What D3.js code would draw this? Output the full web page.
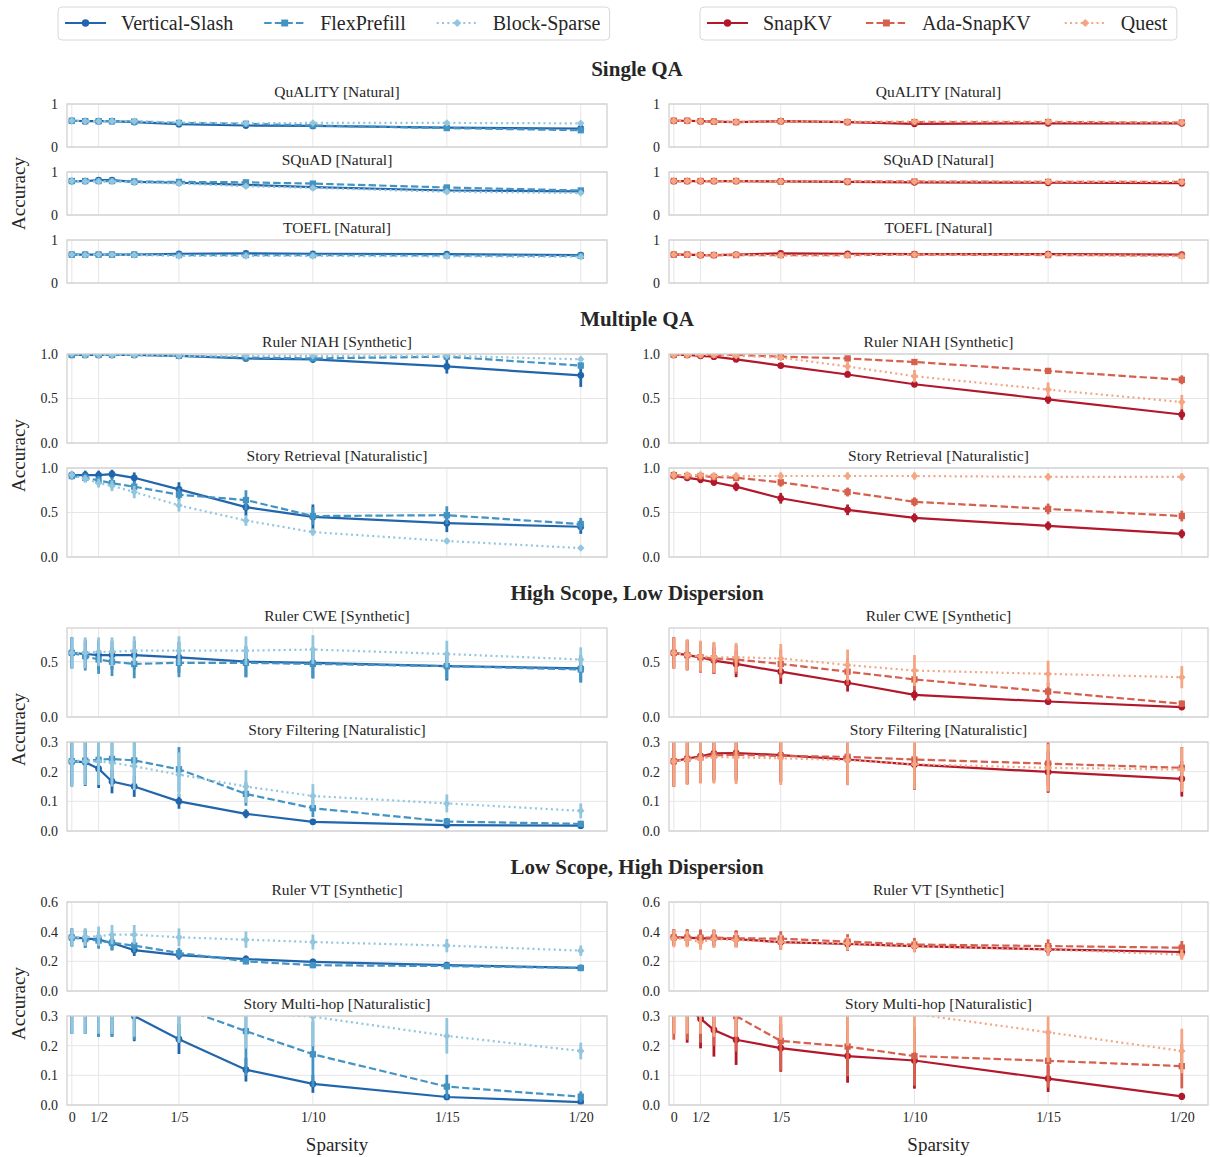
<!DOCTYPE html>
<html>
<head>
<meta charset="utf-8">
<script src="https://cdn.jsdelivr.net/npm/d3@7"></script>
<style>
  body { margin: 0; background: #fff; }
  svg text { font-family: "Liberation Serif", "Times New Roman", serif; fill: #262626; }
</style>
</head>
<body>
<div id="chart"></div>
<script>
// x positions are compression ratios, labelled as sparsity
const compression = [1, 1.5, 2, 2.5, 3.33, 5, 7.5, 10, 15, 20];
const sparsityTicks = [1, 2, 5, 10, 15, 20];
const sparsityLabels = ["0", "1/2", "1/5", "1/10", "1/15", "1/20"];

const prefillMethods = ["Vertical-Slash", "FlexPrefill", "Block-Sparse"];
const decodeMethods = ["SnapKV", "Ada-SnapKV", "Quest"];
const prefillColors = ["#2166ac", "#4393c3", "#92c5de"];
const decodeColors = ["#b2182b", "#d6604d", "#f4a582"];

// ---- Single QA ----
const qualityPrefill = [
    [0.61, 0.60, 0.60, 0.60, 0.58, 0.53, 0.50, 0.49, 0.45, 0.43],
    [0.61, 0.60, 0.60, 0.60, 0.59, 0.56, 0.54, 0.50, 0.44, 0.39],
    [0.61, 0.60, 0.60, 0.60, 0.60, 0.57, 0.55, 0.56, 0.56, 0.55]
];
const qualityPrefillErr = [
    [0.02, 0.02, 0.02, 0.02, 0.02, 0.02, 0.02, 0.02, 0.02, 0.02],
    [0.02, 0.02, 0.02, 0.02, 0.02, 0.02, 0.02, 0.02, 0.02, 0.02],
    [0.02, 0.02, 0.02, 0.02, 0.02, 0.02, 0.02, 0.02, 0.02, 0.02]
];
const qualityDecode = [
    [0.61, 0.61, 0.60, 0.59, 0.58, 0.60, 0.58, 0.54, 0.55, 0.55],
    [0.61, 0.61, 0.60, 0.59, 0.58, 0.60, 0.58, 0.58, 0.58, 0.57],
    [0.61, 0.61, 0.60, 0.59, 0.58, 0.60, 0.59, 0.59, 0.59, 0.57]
];
const qualityDecodeErr = qualityPrefillErr;

const squadPrefill = [
    [0.79, 0.79, 0.81, 0.81, 0.77, 0.75, 0.70, 0.65, 0.57, 0.55],
    [0.79, 0.79, 0.79, 0.79, 0.78, 0.77, 0.76, 0.73, 0.64, 0.57],
    [0.79, 0.78, 0.78, 0.78, 0.76, 0.73, 0.67, 0.63, 0.54, 0.51]
];
const squadDecode = [
    [0.79, 0.79, 0.79, 0.79, 0.79, 0.78, 0.77, 0.76, 0.75, 0.74],
    [0.79, 0.79, 0.79, 0.79, 0.79, 0.78, 0.78, 0.78, 0.77, 0.77],
    [0.79, 0.79, 0.79, 0.79, 0.79, 0.78, 0.78, 0.78, 0.78, 0.77]
];

const toeflPrefill = [
    [0.66, 0.66, 0.66, 0.66, 0.66, 0.68, 0.69, 0.68, 0.67, 0.65],
    [0.66, 0.66, 0.66, 0.66, 0.66, 0.65, 0.65, 0.65, 0.64, 0.63],
    [0.66, 0.65, 0.66, 0.66, 0.65, 0.63, 0.63, 0.63, 0.62, 0.61]
];
const toeflDecode = [
    [0.66, 0.66, 0.65, 0.65, 0.66, 0.69, 0.68, 0.67, 0.67, 0.66],
    [0.66, 0.66, 0.65, 0.65, 0.65, 0.65, 0.65, 0.66, 0.65, 0.64],
    [0.66, 0.66, 0.65, 0.65, 0.66, 0.64, 0.64, 0.66, 0.66, 0.62]
];

// ---- Multiple QA ----
const niahPrefill = [
    [0.99, 0.99, 0.99, 0.99, 0.99, 0.98, 0.95, 0.94, 0.86, 0.76],
    [0.99, 0.99, 0.99, 0.99, 0.99, 0.98, 0.96, 0.95, 0.97, 0.87],
    [1.00, 0.99, 0.99, 0.99, 0.99, 0.98, 0.98, 0.98, 0.98, 0.94]
];
const niahPrefillErr = [
    [0.01, 0.01, 0.01, 0.01, 0.01, 0.02, 0.03, 0.04, 0.08, 0.13],
    [0.01, 0.01, 0.01, 0.01, 0.01, 0.02, 0.02, 0.03, 0.02, 0.04],
    [0.01, 0.01, 0.01, 0.01, 0.01, 0.01, 0.01, 0.01, 0.01, 0.02]
];
const niahDecode = [
    [0.99, 0.99, 0.98, 0.97, 0.94, 0.87, 0.77, 0.66, 0.49, 0.32],
    [0.99, 0.99, 0.99, 0.99, 0.99, 0.97, 0.95, 0.91, 0.81, 0.71],
    [0.99, 0.99, 0.99, 0.99, 0.98, 0.96, 0.86, 0.75, 0.60, 0.46]
];
const niahDecodeErr = [
    [0.01, 0.01, 0.01, 0.01, 0.02, 0.02, 0.03, 0.03, 0.05, 0.06],
    [0.01, 0.01, 0.01, 0.01, 0.01, 0.02, 0.02, 0.02, 0.03, 0.05],
    [0.01, 0.01, 0.01, 0.01, 0.02, 0.03, 0.05, 0.07, 0.08, 0.08]
];

const retrievalPrefill = [
    [0.92, 0.92, 0.92, 0.93, 0.89, 0.76, 0.56, 0.45, 0.38, 0.34],
    [0.91, 0.89, 0.86, 0.83, 0.79, 0.70, 0.64, 0.46, 0.47, 0.37],
    [0.92, 0.88, 0.83, 0.80, 0.73, 0.58, 0.41, 0.28, 0.18, 0.10]
];
const retrievalPrefillErr = [
    [0.04, 0.05, 0.05, 0.05, 0.06, 0.08, 0.10, 0.14, 0.10, 0.08],
    [0.04, 0.05, 0.05, 0.06, 0.06, 0.07, 0.11, 0.10, 0.10, 0.07],
    [0.04, 0.04, 0.05, 0.06, 0.07, 0.07, 0.06, 0.04, 0.03, 0.02]
];
const retrievalDecode = [
    [0.91, 0.89, 0.87, 0.84, 0.79, 0.66, 0.53, 0.44, 0.35, 0.26],
    [0.92, 0.91, 0.91, 0.90, 0.89, 0.84, 0.73, 0.62, 0.54, 0.46],
    [0.92, 0.92, 0.92, 0.91, 0.91, 0.91, 0.91, 0.91, 0.90, 0.90]
];
const retrievalDecodeErr = [
    [0.03, 0.03, 0.04, 0.04, 0.05, 0.06, 0.06, 0.05, 0.05, 0.05],
    [0.04, 0.04, 0.04, 0.04, 0.04, 0.05, 0.05, 0.05, 0.06, 0.06],
    [0.04, 0.04, 0.04, 0.04, 0.04, 0.04, 0.04, 0.04, 0.04, 0.04]
];

// ---- High Scope, Low Dispersion ----
const cwePrefill = [
    [0.58, 0.57, 0.56, 0.56, 0.56, 0.54, 0.50, 0.49, 0.46, 0.44],
    [0.58, 0.55, 0.52, 0.50, 0.48, 0.49, 0.49, 0.48, 0.46, 0.43],
    [0.58, 0.58, 0.59, 0.59, 0.60, 0.60, 0.60, 0.61, 0.57, 0.52]
];
const cwePrefillErr = [
    [0.14, 0.13, 0.13, 0.13, 0.13, 0.14, 0.14, 0.14, 0.13, 0.12],
    [0.14, 0.13, 0.13, 0.13, 0.13, 0.13, 0.13, 0.13, 0.12, 0.12],
    [0.14, 0.14, 0.13, 0.13, 0.13, 0.13, 0.13, 0.13, 0.12, 0.11]
];
const cweDecode = [
    [0.58, 0.56, 0.54, 0.51, 0.48, 0.41, 0.31, 0.20, 0.14, 0.09],
    [0.58, 0.56, 0.54, 0.53, 0.52, 0.48, 0.41, 0.34, 0.23, 0.12],
    [0.58, 0.56, 0.55, 0.54, 0.54, 0.53, 0.47, 0.42, 0.39, 0.36]
];
const cweDecodeErr = [
    [0.14, 0.13, 0.13, 0.12, 0.12, 0.11, 0.08, 0.05, 0.03, 0.02],
    [0.14, 0.14, 0.14, 0.14, 0.13, 0.13, 0.12, 0.10, 0.08, 0.03],
    [0.14, 0.14, 0.14, 0.14, 0.13, 0.13, 0.14, 0.14, 0.12, 0.10]
];

const filteringPrefill = [
    [0.235, 0.232, 0.210, 0.167, 0.150, 0.100, 0.058, 0.031, 0.020, 0.018],
    [0.235, 0.237, 0.240, 0.243, 0.238, 0.208, 0.125, 0.077, 0.032, 0.024],
    [0.235, 0.235, 0.235, 0.230, 0.218, 0.190, 0.150, 0.118, 0.093, 0.068]
];
const filteringPrefillErr = [
    [0.085, 0.080, 0.065, 0.040, 0.035, 0.025, 0.015, 0.008, 0.006, 0.005],
    [0.080, 0.080, 0.080, 0.080, 0.080, 0.075, 0.040, 0.030, 0.012, 0.010],
    [0.085, 0.080, 0.080, 0.080, 0.080, 0.075, 0.055, 0.040, 0.030, 0.025]
];
const filteringDecode = [
    [0.235, 0.244, 0.252, 0.262, 0.263, 0.256, 0.241, 0.224, 0.199, 0.176],
    [0.235, 0.243, 0.248, 0.255, 0.257, 0.253, 0.250, 0.241, 0.227, 0.213],
    [0.235, 0.240, 0.245, 0.250, 0.248, 0.245, 0.239, 0.225, 0.213, 0.207]
];
const filteringDecodeErr = [
    [0.085, 0.085, 0.090, 0.090, 0.090, 0.090, 0.085, 0.085, 0.070, 0.060],
    [0.085, 0.085, 0.085, 0.090, 0.090, 0.090, 0.085, 0.080, 0.075, 0.070],
    [0.085, 0.085, 0.085, 0.090, 0.090, 0.090, 0.085, 0.085, 0.080, 0.075]
];

// ---- Low Scope, High Dispersion ----
const vtPrefill = [
    [0.362, 0.355, 0.346, 0.324, 0.276, 0.242, 0.215, 0.197, 0.174, 0.156],
    [0.360, 0.350, 0.340, 0.325, 0.306, 0.256, 0.200, 0.174, 0.168, 0.155],
    [0.362, 0.364, 0.369, 0.380, 0.380, 0.362, 0.346, 0.330, 0.306, 0.272]
];
const vtPrefillErr = [
    [0.060, 0.060, 0.050, 0.050, 0.040, 0.030, 0.025, 0.020, 0.015, 0.015],
    [0.060, 0.060, 0.055, 0.050, 0.045, 0.035, 0.020, 0.015, 0.012, 0.012],
    [0.060, 0.060, 0.065, 0.065, 0.065, 0.060, 0.055, 0.050, 0.045, 0.035]
];
const vtDecode = [
    [0.362, 0.360, 0.355, 0.355, 0.350, 0.330, 0.317, 0.303, 0.280, 0.263],
    [0.362, 0.360, 0.360, 0.360, 0.355, 0.353, 0.333, 0.313, 0.303, 0.292],
    [0.355, 0.350, 0.328, 0.350, 0.344, 0.330, 0.320, 0.300, 0.280, 0.245]
];
const vtDecodeErr = [
    [0.055, 0.055, 0.055, 0.055, 0.055, 0.050, 0.045, 0.040, 0.040, 0.040],
    [0.055, 0.055, 0.055, 0.055, 0.055, 0.050, 0.050, 0.045, 0.045, 0.045],
    [0.060, 0.055, 0.050, 0.060, 0.050, 0.050, 0.045, 0.040, 0.040, 0.035]
];

const multihopPrefill = [
    [0.34, 0.34, 0.33, 0.33, 0.30, 0.222, 0.119, 0.071, 0.027, 0.010],
    [0.36, 0.36, 0.35, 0.35, 0.34, 0.33, 0.249, 0.171, 0.062, 0.028],
    [0.37, 0.37, 0.37, 0.37, 0.36, 0.33, 0.31, 0.298, 0.233, 0.182]
];
const multihopPrefillErr = [
    [0.10, 0.10, 0.10, 0.10, 0.085, 0.05, 0.04, 0.03, 0.010, 0.006],
    [0.12, 0.12, 0.12, 0.12, 0.12, 0.12, 0.15, 0.11, 0.040, 0.018],
    [0.13, 0.13, 0.13, 0.13, 0.13, 0.12, 0.12, 0.10, 0.060, 0.028]
];
const multihopDecode = [
    [0.34, 0.33, 0.291, 0.253, 0.22, 0.192, 0.165, 0.150, 0.089, 0.029],
    [0.34, 0.34, 0.33, 0.32, 0.30, 0.216, 0.197, 0.165, 0.149, 0.131],
    [0.37, 0.37, 0.37, 0.36, 0.36, 0.35, 0.33, 0.307, 0.245, 0.182]
];
const multihopDecodeErr = [
    [0.10, 0.12, 0.10, 0.09, 0.085, 0.08, 0.09, 0.095, 0.045, 0.012],
    [0.12, 0.12, 0.12, 0.12, 0.12, 0.10, 0.10, 0.10, 0.090, 0.075],
    [0.13, 0.13, 0.13, 0.13, 0.13, 0.13, 0.13, 0.13, 0.100, 0.075]
];

const fmtInt = d3.format("d");
const fmt1 = d3.format(".1f");

const groups = [
    { title: "Single QA", height: 43, tasks: [
        { title: "QuALITY [Natural]", yMax: 1, yTicks: [0, 1], fmt: fmtInt,
          prefill: [qualityPrefill, qualityPrefillErr], decode: [qualityDecode, qualityDecodeErr] },
        { title: "SQuAD [Natural]", yMax: 1, yTicks: [0, 1], fmt: fmtInt,
          prefill: [squadPrefill, qualityPrefillErr], decode: [squadDecode, qualityDecodeErr] },
        { title: "TOEFL [Natural]", yMax: 1, yTicks: [0, 1], fmt: fmtInt,
          prefill: [toeflPrefill, qualityPrefillErr], decode: [toeflDecode, qualityDecodeErr] }
    ]},
    { title: "Multiple QA", height: 89, tasks: [
        { title: "Ruler NIAH [Synthetic]", yMax: 1, yTicks: [0, 0.5, 1], fmt: fmt1,
          prefill: [niahPrefill, niahPrefillErr], decode: [niahDecode, niahDecodeErr] },
        { title: "Story Retrieval [Naturalistic]", yMax: 1, yTicks: [0, 0.5, 1], fmt: fmt1,
          prefill: [retrievalPrefill, retrievalPrefillErr], decode: [retrievalDecode, retrievalDecodeErr] }
    ]},
    { title: "High Scope, Low Dispersion", height: 89, tasks: [
        { title: "Ruler CWE [Synthetic]", yMax: 0.805, yTicks: [0, 0.5], fmt: fmt1,
          prefill: [cwePrefill, cwePrefillErr], decode: [cweDecode, cweDecodeErr] },
        { title: "Story Filtering [Naturalistic]", yMax: 0.3, yTicks: [0, 0.1, 0.2, 0.3], fmt: fmt1,
          prefill: [filteringPrefill, filteringPrefillErr], decode: [filteringDecode, filteringDecodeErr] }
    ]},
    { title: "Low Scope, High Dispersion", height: 89, tasks: [
        { title: "Ruler VT [Synthetic]", yMax: 0.6, yTicks: [0, 0.2, 0.4, 0.6], fmt: fmt1,
          prefill: [vtPrefill, vtPrefillErr], decode: [vtDecode, vtDecodeErr] },
        { title: "Story Multi-hop [Naturalistic]", yMax: 0.3, yTicks: [0, 0.1, 0.2, 0.3], fmt: fmt1,
          prefill: [multihopPrefill, multihopPrefillErr], decode: [multihopDecode, multihopDecodeErr] }
    ]}
];

const W = 1210, H = 1157;
const svg = d3.select("#chart").append("svg")
    .attr("width", W)
    .attr("height", H);

const columns = [
    { x0: 67, x1: 607, key: "prefill", methods: prefillMethods, colors: prefillColors },
    { x0: 669, x1: 1208, key: "decode", methods: decodeMethods, colors: decodeColors }
];
const dashes = [null, "7.4,3.2", "2,3.3"];
const symbols = [d3.symbolCircle, d3.symbolSquare, d3.symbolSquare];
const symbolSizes = [36, 40, 28];
const symbolRotate = [0, 0, 45];

const spineColor = "#cfcfcf";
const gridColor = "#e6e6e6";

// Legend
function drawLegend(startX, methods, colors, gap) {
    const g = svg.append("g");
    let x = startX;
    const cy = 23;
    methods.forEach((m, i) => {
        const item = g.append("g");
        item.append("line")
            .attr("x1", x).attr("x2", x + 41)
            .attr("y1", cy).attr("y2", cy)
            .attr("stroke", colors[i])
            .attr("stroke-width", 2)
            .attr("stroke-dasharray", dashes[i]);
        item.append("path")
            .attr("d", d3.symbol(symbols[i], symbolSizes[i] * 1.2)())
            .attr("transform", `translate(${x + 20.5},${cy}) rotate(${symbolRotate[i]})`)
            .attr("fill", colors[i]);
        const t = item.append("text")
            .attr("x", x + 56)
            .attr("y", cy)
            .attr("dy", "0.35em")
            .attr("font-size", "20px")
            .text(m);
        x = x + 56 + t.node().getComputedTextLength() + gap;
    });
    const bb = g.node().getBBox();
    g.insert("rect", ":first-child")
        .attr("x", startX - 7)
        .attr("y", 7)
        .attr("width", bb.width + 16)
        .attr("height", 33)
        .attr("rx", 4)
        .attr("fill", "#fff")
        .attr("stroke", "#d8d8d8")
        .attr("stroke-width", 1);
}
drawLegend(65, prefillMethods, prefillColors, 31);
drawLegend(707, decodeMethods, decodeColors, 34);

let y = 104;
let clipId = 0;
groups.forEach((group, gi) => {
    const groupTop = y;
    svg.append("text")
        .attr("x", 637)
        .attr("y", y - 35)
        .attr("dy", "0.35em")
        .attr("text-anchor", "middle")
        .attr("font-size", "21px")
        .attr("font-weight", "bold")
        .text(group.title);

    group.tasks.forEach((task, ti) => {
        const top = y, bottom = y + group.height;
        const isBottom = gi === groups.length - 1 && ti === group.tasks.length - 1;

        columns.forEach(col => {
            const x = d3.scaleLinear().domain([0.82, 20.98]).range([col.x0, col.x1]);
            const yS = d3.scaleLinear().domain([0, task.yMax]).range([bottom, top]);
            const g = svg.append("g");

            // grid
            g.append("g").selectAll("line")
                .data(sparsityTicks)
                .join("line")
                .attr("x1", d => x(d)).attr("x2", d => x(d))
                .attr("y1", top).attr("y2", bottom)
                .attr("stroke", gridColor).attr("stroke-width", 1);
            g.append("g").selectAll("line")
                .data(task.yTicks)
                .join("line")
                .attr("x1", col.x0).attr("x2", col.x1)
                .attr("y1", d => yS(d)).attr("y2", d => yS(d))
                .attr("stroke", gridColor).attr("stroke-width", 1);

            // y axis labels
            const yAxis = g.append("g")
                .attr("transform", `translate(${col.x0},0)`)
                .call(d3.axisLeft(yS).tickValues(task.yTicks).tickFormat(task.fmt).tickSize(0).tickPadding(9));
            yAxis.attr("font-size", null).attr("font-family", null);
            yAxis.select(".domain").remove();
            yAxis.selectAll("text")
                .style("font-size", "14px")
                .attr("fill", "#333");

            if (isBottom) {
                const xAxis = g.append("g")
                    .attr("transform", `translate(0,${bottom})`)
                    .call(d3.axisBottom(x).tickValues(sparsityTicks)
                        .tickFormat((d, i) => sparsityLabels[i]).tickSize(0).tickPadding(7));
                xAxis.attr("font-size", null).attr("font-family", null);
                xAxis.select(".domain").remove();
                xAxis.selectAll("text")
                    .style("font-size", "14px")
                    .attr("fill", "#333");
                g.append("text")
                    .attr("x", (col.x0 + col.x1) / 2)
                    .attr("y", 1144)
                    .attr("dy", "0.35em")
                    .attr("text-anchor", "middle")
                    .attr("font-size", "19px")
                    .text("Sparsity");
            }

            // panel title
            g.append("text")
                .attr("x", (col.x0 + col.x1) / 2)
                .attr("y", top - 12)
                .attr("dy", "0.35em")
                .attr("text-anchor", "middle")
                .attr("font-size", "15.5px")
                .text(task.title);

            // data
            const id = "clip" + (clipId++);
            svg.append("clipPath").attr("id", id)
                .append("rect")
                .attr("x", col.x0).attr("y", top)
                .attr("width", col.x1 - col.x0).attr("height", bottom - top);
            const plot = g.append("g").attr("clip-path", `url(#${id})`);
            const [means, errs] = task[col.key];

            means.forEach((series, si) => {
                const color = col.colors[si];
                const pts = series.map((v, k) => ({ c: compression[k], v, e: errs[si][k] }));

                plot.append("g").selectAll("line")
                    .data(pts)
                    .join("line")
                    .attr("x1", d => x(d.c)).attr("x2", d => x(d.c))
                    .attr("y1", d => yS(d.v - d.e)).attr("y2", d => yS(d.v + d.e))
                    .attr("stroke", color)
                    .attr("stroke-width", 2.8);

                plot.append("path")
                    .datum(pts)
                    .attr("d", d3.line().x(d => x(d.c)).y(d => yS(d.v)))
                    .attr("fill", "none")
                    .attr("stroke", color)
                    .attr("stroke-width", 2.2)
                    .attr("stroke-dasharray", dashes[si]);

                plot.append("g").selectAll("path")
                    .data(pts)
                    .join("path")
                    .attr("d", d3.symbol(symbols[si], symbolSizes[si])())
                    .attr("transform", d => `translate(${x(d.c)},${yS(d.v)}) rotate(${symbolRotate[si]})`)
                    .attr("fill", color);
            });

            // spines
            g.append("rect")
                .attr("x", col.x0).attr("y", top)
                .attr("width", col.x1 - col.x0).attr("height", bottom - top)
                .attr("fill", "none")
                .attr("stroke", spineColor)
                .attr("stroke-width", 1.25);
        });

        y = bottom + (ti === group.tasks.length - 1 ? 71 : 25);
    });

    const groupBottom = y - 71;
    svg.append("text")
        .attr("transform", `translate(18,${(groupTop + groupBottom) / 2}) rotate(-90)`)
        .attr("dy", "0.35em")
        .attr("text-anchor", "middle")
        .attr("font-size", "19px")
        .text("Accuracy");
});
</script>
</body>
</html>
